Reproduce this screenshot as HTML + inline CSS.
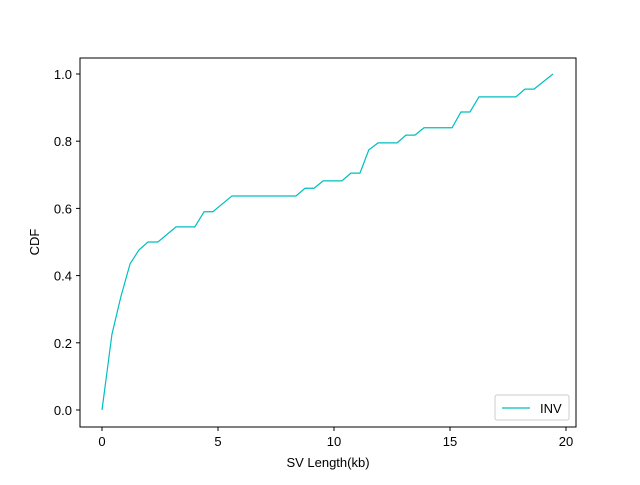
<!DOCTYPE html>
<html><head><meta charset="utf-8"><style>
body{margin:0;background:#fff}
svg text{font-family:"Liberation Sans","DejaVu Sans",sans-serif;font-size:13px;fill:#000}
</style></head><body>
<svg id="chart" width="640" height="480" xmlns="http://www.w3.org/2000/svg">
<rect x="0" y="0" width="640" height="480" fill="#fff"/>
<g id="ticks"></g>
<polyline id="line" fill="none" stroke="#00bfbf" stroke-width="1.2"/>
<rect x="80" y="58" width="496" height="369" fill="none" stroke="#000" stroke-width="1"/>
<text x="328" y="467" text-anchor="middle">SV Length(kb)</text>
<text x="39" y="242" text-anchor="middle" transform="rotate(-90 39 242)">CDF</text>
<g>
<rect x="495" y="395" width="74" height="25" rx="2" fill="#fff" stroke="#ccc"/>
<line x1="502" y1="408" x2="530" y2="408" stroke="#00bfbf" stroke-width="1.2"/>
<text x="540" y="413">INV</text>
</g>
</svg>
<script>
const xs=[0,0.43,0.82,1.21,1.59,1.98,2.41,3.19,4.0,4.4,4.78,5.6,8.36,8.75,9.14,9.53,10.34,10.73,11.12,11.5,11.9,12.72,13.1,13.49,13.88,15.09,15.47,15.86,16.25,17.84,18.23,18.62,19.44];
const ys=[0,0.226,0.339,0.435,0.476,0.5,0.5,0.545,0.545,0.59,0.59,0.637,0.637,0.66,0.66,0.682,0.682,0.705,0.705,0.774,0.795,0.795,0.818,0.818,0.84,0.84,0.887,0.887,0.932,0.932,0.955,0.955,1.0];
const xTicks=[0,5,10,15,20];
const yTicks=[0.0,0.2,0.4,0.6,0.8,1.0];
const X=v=>102+v*23.2, Y=v=>410-v*336;
const NS="http://www.w3.org/2000/svg";
document.getElementById('line').setAttribute('points',xs.map((x,i)=>X(x)+','+Y(ys[i])).join(' '));
const g=document.getElementById('ticks');
xTicks.forEach(t=>{
 const l=document.createElementNS(NS,'line');
 l.setAttribute('x1',X(t));l.setAttribute('x2',X(t));l.setAttribute('y1',427);l.setAttribute('y2',431);l.setAttribute('stroke','#000');
 
 
 g.appendChild(l);
 const s=document.createElementNS(NS,'text');
 s.setAttribute('x',X(t));s.setAttribute('y',446);s.setAttribute('text-anchor','middle');s.textContent=t;
 
 
 g.appendChild(s);
});
yTicks.forEach(t=>{
 const l=document.createElementNS(NS,'line');
 l.setAttribute('x1',76);l.setAttribute('x2',80);l.setAttribute('y1',Y(t));l.setAttribute('y2',Y(t));l.setAttribute('stroke','#000');
 
 
 g.appendChild(l);
 const s=document.createElementNS(NS,'text');
 s.setAttribute('x',72);s.setAttribute('y',Y(t)+5);s.setAttribute('text-anchor','end');s.textContent=t.toFixed(1);
 
 
 g.appendChild(s);
});
</script>
</body></html>
